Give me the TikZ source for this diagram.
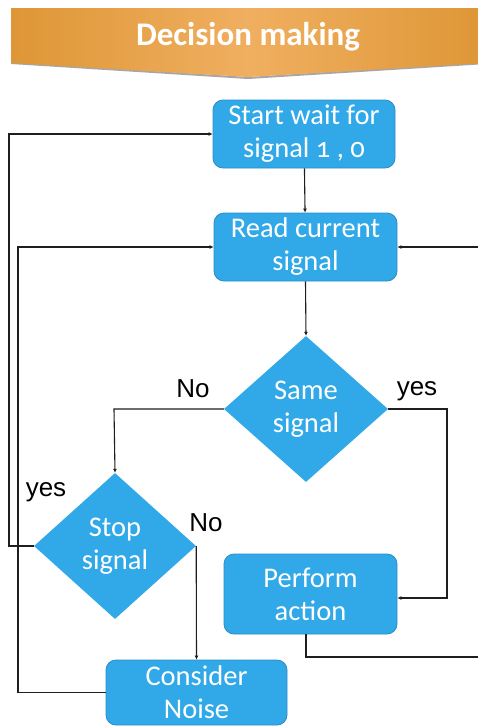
\documentclass[tikz,border=0pt]{standalone}
\usepackage{fontspec}
\setmainfont{Carlito}[Numbers=OldStyle]
\newfontfamily\labelfont{Liberation Sans}
\usetikzlibrary{shapes.geometric,arrows.meta}

\definecolor{boxblue}{HTML}{31A9E8}
\definecolor{boxedge}{HTML}{2A8CC6}
\definecolor{bannerdark}{HTML}{DE9636}
\definecolor{bannerlight}{HTML}{F0AF60}
\definecolor{wire}{HTML}{1E1E1E}

\tikzset{
  x=1pt, y=-1pt,
  stepbox/.style={draw=boxedge, line width=0.8pt, fill=boxblue, rounded corners=10pt,
    text=white, align=center, inner sep=0pt, font=\fontsize{28.5}{33}\selectfont},
  choice/.style={diamond, fill=boxblue, text=white, align=center, inner sep=0pt,
    font=\fontsize{28.5}{33}\selectfont},
  wirearrow/.style={draw=wire, line width=1.1pt, -{Latex[length=4pt,width=4pt]}},
  branch/.style={anchor=base, text=black, font=\labelfont\fontsize{26}{28}\selectfont},
}

\begin{document}
\begin{tikzpicture}
\clip (0,0) rectangle (478,726);
\fill[white] (0,0) rectangle (478,726);

% title banner
\fill[black!35] (11,64) -- (248,79) -- (487,64) -- (487,62) -- (248,77) -- (11,62) -- cycle;
\shade[left color=bannerdark, right color=bannerdark, middle color=bannerlight]
  (11,8) -- (487,8) -- (487,63) -- (248,77) -- (11,63) -- cycle;
\node[text=white, font=\bfseries\fontsize{33}{38}\selectfont] (title) at (248,37) {Decision making};

% process steps
\node[stepbox, minimum width=182pt, minimum height=68pt] (start) at (304,134) {Start wait for\\signal 1 , 0};
\node[stepbox, minimum width=183pt, minimum height=68pt] (read) at (305.5,247) {Read current\\signal};
\node[choice, minimum width=164pt, minimum height=146pt] (same) at (306,409) {Same\\signal};
\node[choice, minimum width=162pt, minimum height=146pt] (stop) at (115,546) {Stop\\signal};
\node[stepbox, minimum width=173pt, minimum height=80pt] (perform) at (310.5,594) {Perform\\action};
\node[stepbox, minimum width=181pt, minimum height=65pt] (consider) at (196.5,692.5) {Consider\\Noise};

% routing points
\coordinate (lx1) at (9,0);
\coordinate (lx2) at (18,0);
\coordinate (nl) at (114,409);
\coordinate (yr) at (447,598);
\coordinate (pb) at (306,657);
\coordinate (rx) at (484,657);

% connectors
\draw[wirearrow] (start) -- (read);
\draw[wirearrow] (read.south) -- (same.north);
\draw[wirearrow] (same.west) -- (nl) -- (stop.north);
\draw[wirearrow] (same.east) -| (yr) -- (perform.east |- yr);
\draw[wirearrow] (stop.west) -- (stop.west -| lx1) |- (start.west);
\draw[wirearrow] (stop.east) -- (consider.north);
\draw[wirearrow] (consider.west) -- (consider.west -| lx2) |- (read.west);
\draw[wirearrow] (perform.south -| same) -- (pb) -- (rx) |- (read.east);

% branch labels
\node[branch] (noA) at (193,397) {No};
\node[branch] (yesA) at (417,395) {yes};
\node[branch] (yesB) at (46,496) {yes};
\node[branch] (noB) at (206,531) {No};
\end{tikzpicture}
\end{document}
